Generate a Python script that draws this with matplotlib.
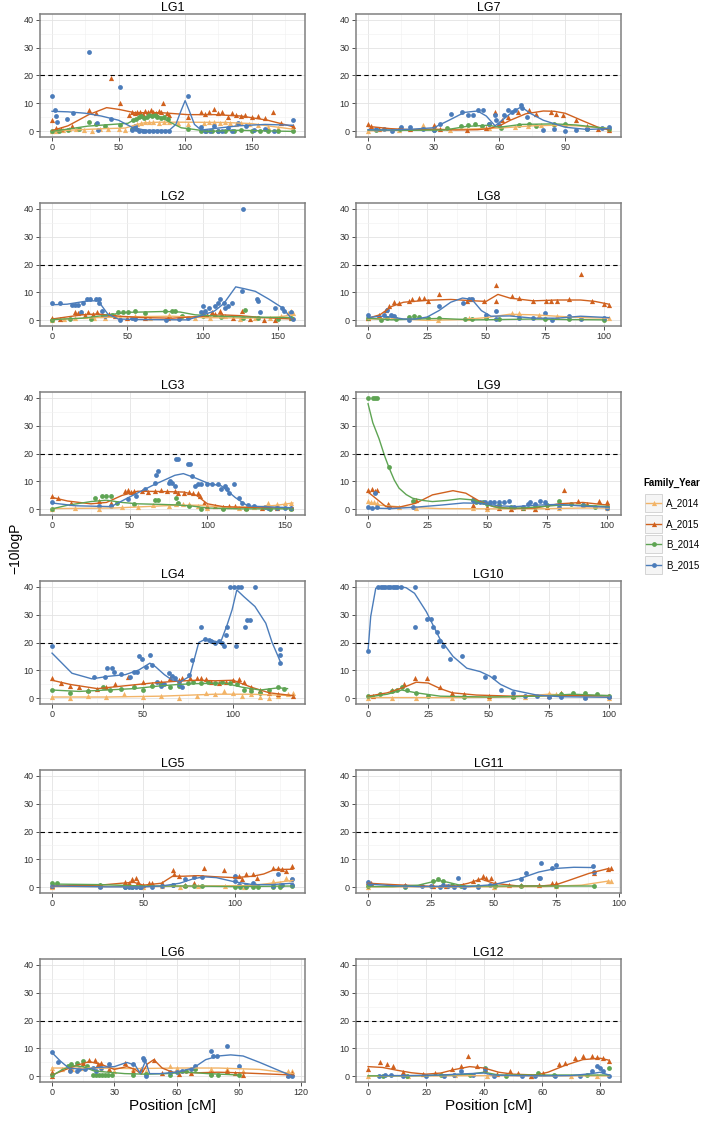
import matplotlib
matplotlib.use("Agg")
import matplotlib.pyplot as plt
from matplotlib.patches import Rectangle

plt.rcParams['font.family'] = ['Liberation Sans', 'DejaVu Sans']

# ---------------- data ----------------
panels = ["LG1", "LG2", "LG3", "LG4", "LG5", "LG6",
          "LG7", "LG8", "LG9", "LG10", "LG11", "LG12"]
lengths = [181, 160, 155, 133, 132, 116, 110, 102, 101, 100, 96, 83]
x_ticks = [[0, 50, 100, 150], [0, 50, 100, 150], [0, 50, 100, 150],
           [0, 50, 100], [0, 50, 100], [0, 30, 60, 90, 120],
           [0, 30, 60, 90], [0, 25, 50, 75, 100], [0, 25, 50, 75, 100],
           [0, 25, 50, 75, 100], [0, 25, 50, 75, 100], [0, 20, 40, 60, 80]]
y_ticks = [0, 10, 20, 30, 40]
threshold = 20
series = ["A_2014", "A_2015", "B_2014", "B_2015"]
colors = ["#F2B468", "#D0611E", "#5EA453", "#4B7CBA"]
markers = ["^", "^", "o", "o"]

LG1_PTS = {
    "A_2014": [(0,0),(3,0.3),(8,0.5),(13,0.8),(18,1),(24,0.5),(30,0.3),(36,0.8),(42,1),(50,0.7),(55,0.5),(60,1.5),(64,2.5),(67,3),(70,3.5),(73,3.2),(76,3.3),(80,3),(84,3.4),(88,3.2),(95,3),(102,2.8),(114,3),(118,3.5),(122,3.2),(126,3),(130,3.3),(134,3),(138,2.5),(142,3),(148,2.6),(155,2.2),(162,1.5),(170,1.2),(181,0.8)],
    "A_2015": [(0,4),(3,1.3),(7,1),(15,2),(27.6,7.5),(33,6.5),(44.6,19.2),(51,10.2),(58,6),(60,7),(62,6.5),(64,7),(66,6.8),(68,6.2),(70,7.2),(72,6.8),(74,7.5),(76,7),(78,6.5),(80,7.3),(82,6.8),(83.5,10.2),(86,6.5),(88,6),(102,5.2),(112,6.8),(115,6.2),(118,6.8),(122,8),(125,6.5),(128,6.8),(132,5),(135,6.5),(138,6),(142,5.5),(145,5.8),(150,5.2),(155,5.5),(160,4.8),(166,7),(172,3),(181,2)],
    "B_2014": [(0,0),(5,0.3),(12,0.5),(20,1),(27.6,3.5),(33,2.7),(40,2),(51,2.3),(60,1),(61,4),(63,4.5),(65,5),(67,5.5),(69,4.8),(71,5.3),(73,5.8),(75,5.5),(77,6),(79,5.2),(82,4.9),(84,5),(87,4.3),(102,1),(112,0),(116,0),(120,0.2),(125,0),(130,0),(137,0.3),(142,0.5),(150,0),(156,0.2),(162,0),(170,0),(181,0)],
    "B_2015": [(0,12.5),(2,7.5),(3,5.5),(4,3.5),(11.5,4.6),(16,6.7),(27.6,28.3),(34,3.1),(34.5,0.5),(44.6,4.5),(51,16),(60,0.5),(62,2),(63,1),(65,0),(68,0.3),(70,0),(73,0),(76,0),(79,0),(82,0),(85,0),(88,0),(102,12.8),(112,1.5),(115,0),(119,0.2),(122,2),(125,0),(128,0.3),(132,1.3),(135,0),(140,3),(146,2),(152,0.5),(160,1),(167,0),(181,4)],
}
LG1_FIT = {
    "A_2014": [(0,0.1),(20,0.6),(40,1),(55,1.2),(62,2.2),(68,3),(80,3.3),(100,3.3),(130,3.2),(150,2.8),(165,1.8),(181,0.8)],
    "A_2015": [(0,0.3),(12,2),(27.6,6),(41,8.5),(50,7.9),(62,6.7),(82,6.7),(102,6),(122,6),(142,5.5),(162,4),(181,1.7)],
    "B_2014": [(0,0),(27,1.9),(45,2.5),(57,2.9),(62,4.3),(72,5.2),(80,5.5),(87,3.7),(97,1.3),(107,0.7),(117,0),(140,0.4),(181,0)],
    "B_2015": [(0,7.2),(12,7),(25,6.5),(37,5.5),(50,4),(60,1.5),(70,0.4),(88,0.4),(93,2.5),(97,7.5),(100,11),(103,7.5),(107,2.5),(112,0.5),(125,1.2),(140,2),(160,2.5),(181,2.2)],
}

LG2_PTS = {
    "A_2014": [(0,0.3),(8,0.5),(15,1),(22,1.5),(28,0.8),(35,1),(45,1.3),(55,1.5),(65,1),(78,1.8),(85,1.2),(95,0.8),(105,1),(115,1.5),(125,0.5),(135,0.8),(145,1),(152,1.5),(157,2.5),(159,3.4),(160,2.8)],
    "A_2015": [(0,0.7),(5,0.5),(15,2.9),(17,2.5),(19.5,2.9),(22,2),(24,3),(27,2.2),(30,3),(33,2),(38,2.3),(42,1.5),(50,1),(62,0.7),(77,1),(100,2.5),(103,2),(106,3),(108,2.2),(111.6,3.4),(113,2),(120,0.7),(126,3.4),(131.6,0.5),(141,0),(148,0),(159,1)],
    "B_2014": [(0,0),(12,0.5),(26,0.5),(39.5,1.9),(44,2.9),(47,3.1),(50.6,3.1),(55,3.4),(62,2.8),(75,3.4),(79.5,3.4),(81.7,3.4),(86,1.7),(100,1.5),(112,1.2),(127,1),(128,3.8),(137,0.7),(150,0.5),(159,0.7)],
    "B_2015": [(0,6.2),(5,6.2),(13,5.6),(15,5.6),(17,5.6),(19.5,3.1),(20.6,6.4),(23,7.6),(25,7.6),(29.5,7.6),(31,7.6),(31.5,6.2),(33,3.4),(35,1.7),(45,0.2),(53,0.7),(55,0.5),(76,0),(84,0.5),(90,0.7),(99,2.9),(100.5,5.2),(101.6,3.4),(104,4.6),(108,5.2),(110,6.2),(111.6,7.6),(114,6.4),(115,4.6),(117,5.2),(119.4,6.2),(127,40),(126,10.6),(136,7.8),(137,7),(138,2.9),(148,4.6),(152.7,4.6),(154,3.4),(159,2.9),(160,0.5)],
}
LG2_FIT = {
    "A_2014": [(0,0.3),(30,1),(50,1.3),(80,1.5),(100,1),(130,0.8),(150,1.2),(160,2)],
    "A_2015": [(0,0.5),(20,2),(30,2.3),(45,1.5),(60,1),(80,0.8),(100,1.5),(112,2),(125,1.7),(140,1),(160,0.5)],
    "B_2014": [(0,0.3),(20,0.8),(35,1.8),(50,2.9),(60,3),(75,3.2),(85,3),(95,2),(110,1.5),(130,1.2),(160,1)],
    "B_2015": [(0,5.6),(10,5.8),(24,7),(30.6,7),(34,4.5),(37,2.3),(44,0.5),(60,0.3),(90,0.2),(99,1.7),(108,3.4),(114,6),(118,9),(122,12),(128,11.3),(135,10.4),(144,7.6),(152.7,4.6),(157,2),(160,0)],
}

LG3_PTS = {
    "A_2014": [(0,0.3),(15,0.5),(30,0.3),(45,0.8),(55,1),(65,1.5),(75,1.2),(80,1.8),(84,1.8),(88,1.8),(94,1.2),(100,0.5),(110,0.8),(120,0.5),(130,0.8),(139,2.3),(145,2),(150,2.3),(154,2.3)],
    "A_2015": [(0,4.8),(4,4.2),(12.5,2.4),(30,3),(38,2.4),(47,6.6),(49,6.8),(51,6.4),(53,6.6),(58,6.6),(62,6.4),(66,6.6),(70,6.8),(74,6.6),(79,6.6),(81,6),(85,6),(88,6.2),(91,6),(94,6),(95,4.8),(98,2.4),(100,1.2),(105,1.2),(110,1),(114,1.2),(118,1.2),(125,0.6),(135,0.6),(145,0.6),(154,0.6)],
    "B_2014": [(0,0),(27.5,4.2),(32,4.8),(35,4.8),(38,4.8),(42,2.4),(53,1.8),(66,3.3),(68,3.3),(80,4.2),(81,2.4),(88,1.2),(96,0.3),(110,0.2),(125,0.3),(140,0.2),(154,0.3)],
    "B_2015": [(0,2.6),(30,1.2),(38,1.2),(49,3.6),(54,4.8),(60,7.4),(66,9.6),(67,12.2),(68,13.7),(75,9.6),(76,10.1),(77,9.6),(79,8.4),(80,18.1),(81,18.1),(87.7,16.1),(89,16.1),(90,12),(92,8.4),(94,9),(96,9),(100,9),(103,9),(107,9),(109,7.2),(111,8.4),(112.5,7.4),(114,5.9),(117,9.2),(120,4.2),(122,2.4),(126,1.5),(130,1.2),(137,1),(139,0.6),(145,0.6),(150,0.6),(154,0.6)],
}
LG3_FIT = {
    "A_2014": [(0,0.3),(40,0.5),(60,1),(80,1.5),(95,1.5),(110,0.8),(130,0.8),(145,1.5),(155,2.3)],
    "A_2015": [(0,4.3),(10,3),(25,2),(35,2.5),(45,5),(55,6.5),(70,6.4),(85,6.2),(93,5),(100,2),(110,1),(130,0.6),(155,0.5)],
    "B_2014": [(0,0.2),(10,1.5),(25,2.8),(35,3.3),(45,2.5),(55,2),(70,1.8),(80,1.6),(90,1.2),(100,0.5),(120,0.2),(155,0.2)],
    "B_2015": [(0,2.3),(15,1.3),(38,1),(49,4.2),(64,8.4),(79,12.2),(84.5,12.8),(92,11.3),(100.6,9.3),(109,8.4),(118,4.2),(126,1.2),(154,0.6)],
}

LG4_PTS = {
    "A_2014": [(0,0.5),(10,0.3),(20,1),(30,0.5),(40,1.5),(50,0.5),(60,1),(70,0.3),(80,1),(85,2),(90,1.5),(95,2.5),(100,1.8),(105,1),(110,1.5),(115,0.5),(120,0.3),(125,1),(130,1.5),(133,1.8)],
    "A_2015": [(0,7.3),(5,5.5),(10,4.5),(15,4),(20,3),(25,3.5),(30,4),(35,5),(42,7.6),(45,4.5),(50,6),(55,5),(60,6),(65,7.3),(70,6.5),(72,7.3),(76,7.3),(80,7.3),(82,7.3),(85,7),(88,6),(92,5.5),(96,6),(100,6.5),(103,7),(106,6),(110,4),(115,3),(120,2),(125,1.5),(133,1)],
    "B_2014": [(0,3),(10,2),(20,2.5),(28,4),(32,3),(38,3.5),(45,4),(50,3),(55,4.5),(60,5),(65,4),(70,4.5),(75,5.5),(78,6),(82,5.5),(86,6),(90,5.5),(94,6),(98,5.5),(102,5),(106,3),(110,2.5),(115,2),(120,3),(125,4),(128,3.5)],
    "B_2015": [(0,18.6),(23,7.5),(29.5,7.5),(30.4,11),(33,11),(34,9.6),(37.8,8.8),(43,7.6),(45,9.4),(47,9.6),(48,15.2),(49.7,14),(51.6,11.4),(54,15.6),(55,12),(58,6),(60,4.5),(62,5),(64.5,9),(66,8),(68,7.3),(70,5),(72,4),(75.5,8.5),(77,13.8),(82.5,25.5),(84.7,21.2),(86.5,21),(88,20.5),(90,20),(92,20.5),(94,20),(95,18.6),(96,22.7),(96.5,25.5),(98.5,40),(100.5,40),(102.5,40),(104.5,40),(101.7,18.6),(106.8,25.5),(107.7,28.1),(109.5,28.1),(112,40),(126,17.6),(126,15.6),(126,12.6)],
}
LG4_FIT = {
    "A_2014": [(0,0.5),(30,0.5),(60,0.8),(90,1.5),(110,1.5),(133,1)],
    "A_2015": [(0,6.5),(10,5),(25,3.5),(40,4.5),(55,5.5),(70,6.2),(80,6.5),(90,6.3),(100,6.5),(110,4),(120,2),(133,1)],
    "B_2014": [(0,3),(15,2.5),(30,3),(45,3.5),(60,4.5),(70,5),(80,5.3),(95,5.5),(105,4),(115,3),(125,3.8),(130,3.5)],
    "B_2015": [(0,16.2),(11,9),(22,7),(31,7.9),(40.5,8.5),(48,10.2),(54,12.6),(57,11.4),(62,8.5),(66,6.7),(71,6),(76,7.9),(81,20),(84.7,21.2),(93,20),(96.5,26),(99.4,31.7),(102,38.8),(105.9,36.4),(112,32.9),(118,26.9),(121.5,20),(126,13.2)],
}

LG5_PTS = {
    "A_2014": [(0,0.3),(26.5,0.5),(42,0.5),(50,0.3),(60,0.5),(70,0.3),(80,0.6),(95,0.5),(105,0.3),(112,0.8),(121,2.4),(125,1.5),(128,3.5),(131,2.9)],
    "A_2015": [(0,0.6),(26.5,1),(40,2.1),(42,1.5),(44,3),(45.8,3.5),(47,1.8),(50,0.9),(53,1.5),(55,1.5),(60,1.5),(66,6.2),(67,4.7),(69.5,4.1),(73,0.9),(78,1.5),(83,7.1),(94,6.2),(100,4.1),(102.5,4.1),(104,2.9),(106,4.7),(110,4.7),(112.5,3.5),(121,7.1),(124,7.1),(126,6.5),(128,5.9),(131.6,7.7)],
    "B_2014": [(0,1.5),(2.7,1.5),(26.5,1),(40,0),(44,0),(48,0),(66,0.9),(73,0.4),(78,0.4),(82,0.6),(100,0.1),(103,0),(106,0),(110,0),(113,0),(121,0),(125,0),(131.6,0.6)],
    "B_2015": [(0,0.6),(26.5,0.1),(40,0),(42,0),(44,0),(46,0),(48,0),(49,0),(55,0.3),(60,0.4),(66,0.9),(73,3),(78,3.9),(82.3,3.9),(100,4.1),(100,2.4),(102.5,0.9),(106,0.9),(110,1.5),(121,0.6),(124,4.7),(126,0.9),(131.6,3),(131.6,0.9)],
}
LG5_FIT = {
    "A_2014": [(0,0.3),(50,0.3),(80,0.5),(110,0.7),(120,1.5),(132,2.5)],
    "A_2015": [(0,0.5),(26,0.8),(40,1.6),(45,1.8),(50,0.8),(60,1.5),(66,4),(72,4),(80,4.2),(90,3.8),(100,3.5),(110,4),(116,4.8),(122,6.4),(132,6.5)],
    "B_2014": [(0,1.2),(26,1),(50,0.5),(75,0.5),(100,0.3),(132,0.5)],
    "B_2015": [(0,0.5),(30,0.2),(50,0.2),(60,0.5),(70,1.5),(77,3),(83,3.8),(90,3.5),(100,2),(110,1),(120,1),(132,1.5)],
}

LG6_PTS = {
    "A_2014": [(0,3.1),(5,2.5),(9.8,2.5),(15,3),(23.5,2.5),(30,2),(39,2.5),(45,2),(57,3.7),(60,3),(68.6,3.1),(76.5,2.5),(84.3,2.5),(92,1.9),(113.7,1.9),(115.7,1.9)],
    "A_2015": [(0,0.2),(0,1.5),(8.8,3),(14.7,4.9),(17.6,5.8),(20.6,5.8),(22,4.5),(23.5,4.9),(27.5,2.5),(35,4.9),(39,1.9),(43,2.5),(49,6),(53,1.3),(61,0.7),(66.7,1.3),(76.5,1.3),(84.3,1.9),(88,1.3),(92,0.5),(113.7,0.5),(115.7,1.3)],
    "B_2014": [(0,0.6),(7.8,3.7),(9,4.3),(11.8,4.9),(14.7,5.5),(16.7,3.7),(19.6,0.5),(21,0.5),(22.5,0.5),(24,0.5),(25.5,0.5),(27,0.5),(29,0.5),(39,0.5),(45,0.7),(57,0.5),(64.7,1.9),(68.6,2.5),(76.5,0.5),(80,0.5),(90,0.5)],
    "B_2015": [(0,8.7),(3,5),(8.8,1.9),(11.8,1.9),(13,2.5),(15.7,2.5),(19.6,3.1),(21,2),(23.5,3.1),(27.5,4.3),(39,4.3),(44,6.7),(44.5,6),(45,0.1),(57,1.5),(60,1.5),(62.7,1.9),(66.7,2.5),(68.6,3.7),(76.5,9),(77.5,7.3),(79.4,7.3),(84.3,10.8),(90,3.7),(113.7,0.1),(115.7,0.1)],
}
LG6_FIT = {
    "A_2014": [(0,3),(20,3),(40,2.8),(60,3),(80,3),(100,2.5),(116,1)],
    "A_2015": [(0,0.5),(5,2),(12,4),(18,5.3),(24,4.2),(30,2.5),(36,3.5),(40,2.5),(43,0.8),(46,4.5),(49,6),(53,3),(58,1.5),(70,1.3),(80,1.5),(90,1.3),(100,1),(116,0.5)],
    "B_2014": [(0,0.2),(5,2.5),(10,3.8),(15,3.5),(20,2),(27,1.5),(35,1),(45,0.8),(55,1),(65,1.5),(75,1),(90,0.5)],
    "B_2015": [(0,8.5),(4,5.5),(8,3),(15,2.5),(22,3.2),(30,3.5),(36,5),(40,4),(42.5,1),(45,5.5),(47,1),(52,1),(60,1.5),(68,3),(74,6),(80,7.3),(86,7.7),(92,7.3),(100,5),(108,2.5),(116,0)],
}

LG7_PTS = {
    "A_2014": [(0,0.1),(14,0.5),(25,2.3),(37.5,0.5),(55,1.1),(67,1.7),(73,1.9),(79,2.2),(85,2.5),(90,2.5),(100,1.5),(110,1)],
    "A_2015": [(0,2.5),(1.2,1.8),(5,1),(19,0.8),(30,2.3),(33,0.8),(45,0.5),(54,1.3),(58,7),(61,4.1),(64,5.3),(68.5,7),(73.5,7.6),(76.5,6.4),(83.7,7),(86,6.4),(89,6),(95,4),(100,2),(105,1),(110,0.5)],
    "B_2014": [(3.6,0.5),(14.5,0.7),(30,0.5),(36,1.1),(42.5,2),(45.6,2.3),(48.7,2.5),(52,2),(55,2.8),(60.7,1.3),(69,2.3),(73.5,2.8),(76.5,2),(85,2.5),(90,2.5),(100,1),(110,0.8)],
    "B_2015": [(3.6,0.7),(7.5,0.7),(11,0.3),(15,1.7),(19,1.7),(25,0.7),(30,0.4),(33,2.5),(37.8,6.3),(43,6.8),(45.5,6),(48,6),(50,7.6),(52.6,7.6),(55,2.5),(58,5.8),(58.3,4),(59.6,2.3),(62,5.8),(64,7.6),(65.8,7),(67.3,7.6),(69.7,9.4),(70.5,8.4),(72.8,5.2),(80,0.5),(85,1),(90,0.3),(95,0.5),(100,0.7),(107,1.3),(110,1.5)],
}
LG7_FIT = {
    "A_2014": [(0,0.2),(20,0.5),(40,0.7),(60,1.2),(75,2),(85,2.2),(95,2),(110,1)],
    "A_2015": [(0,1.8),(10,1),(20,0.6),(30,0.8),(40,0.5),(50,0.6),(55,1),(60,2),(65,4),(72,6.3),(80,7.3),(85,7.2),(90,6.5),(98,3.8),(105,1.5),(110,0.5)],
    "B_2014": [(0,0.5),(20,0.4),(35,0.5),(45,1.8),(55,2.2),(60,1.5),(70,2.5),(85,2.7),(95,2.3),(110,1)],
    "B_2015": [(0,0.6),(10,0.5),(20,0.8),(30,1.3),(37,4),(44,6.8),(50,7.3),(54,5.5),(58,2),(62,4.5),(66,7),(70,8.8),(74,6.5),(80,4),(90,1.5),(100,0.7),(110,1)],
}

LG8_PTS = {
    "A_2014": [(0,0.9),(10.5,1.5),(29.5,0),(42.9,0.9),(61,2.7),(64,2.7),(72.5,2.1),(80,1.5),(90,1),(102,0.8)],
    "A_2015": [(0,0.9),(4.7,2.1),(7.5,3.9),(8.9,5.1),(11,6.6),(13,6.2),(17.4,6.9),(18.8,7.5),(21.6,8),(23.8,8),(25.2,7.1),(30,9.5),(42,6.9),(43.6,7.5),(49,6.9),(54,12.5),(54,6.9),(61,8.9),(64,8),(69.7,6.9),(75.4,6.9),(77.5,7.1),(80,7),(85,7.5),(90,16.5),(95,7),(100,6),(102,5.5)],
    "B_2014": [(0,0.7),(5.4,0),(8.2,1),(11.7,0.4),(17.4,1.2),(19.5,1.5),(21.6,1.2),(25.2,1),(30,1),(41,0.6),(44,0.4),(50,0.9),(55.5,0.4),(75,0.4),(85,0.5),(100,0.2)],
    "B_2015": [(0,1.9),(6.8,1.9),(8.2,3.9),(9.6,1.9),(11,1.5),(17.4,0),(30,5.3),(40,6.3),(42.9,7.8),(44,7.5),(50,1.9),(54,3.3),(54,0.6),(64,1),(70,1),(75,2.7),(78,0),(85,1.5),(90,0.5),(100,1)],
}
LG8_FIT = {
    "A_2014": [(0,0.5),(15,0.5),(25,0),(40,0.3),(50,1),(60,2.2),(70,2),(80,1.5),(90,1),(102,0.8)],
    "A_2015": [(0,0.8),(5,2),(10,5),(15,6.5),(25,7.2),(35,7.5),(45,7),(50,6.8),(55,9.3),(60,8),(70,7),(80,7.3),(90,7.3),(96,6.8),(102,5.8)],
    "B_2014": [(0,0.8),(10,0.2),(20,0.5),(30,0.7),(45,0.2),(55,0.3),(70,0.5),(85,0.3),(100,0.2)],
    "B_2015": [(0,1),(5,1.5),(10,1.2),(15,0.5),(20,0.5),(25,1.2),(30,3.5),(35,6.5),(40,8),(44,7.5),(48,3.5),(52,1.5),(60,1.6),(70,0.8),(80,0.8),(90,1.5),(102,1)],
}

LG9_PTS = {
    "A_2014": [(0,3.1),(1.1,2.8),(2.5,2.6),(3.9,2.2),(8.6,1.6),(13,1),(20,0.5),(44,0.5),(50,0.2),(60,0.3),(70,0.2),(80,0.5),(90,1.5),(100,0.5)],
    "A_2015": [(0,7),(1.8,7.2),(2.8,6.5),(3.9,7),(8.2,1.9),(20,3.4),(44,1.7),(50,1),(55,0.5),(60,0.3),(65,0.5),(70,0.3),(75,1),(82,7),(88,3),(92,2),(97,3),(100,2.5)],
    "B_2014": [(0,40),(2.1,40),(3,40),(3.9,40),(8.6,15),(18.7,3.1),(44,3.5),(45.4,2.8),(48,2.5),(50,2),(55,1.5),(60,1),(65,0.5),(70,1),(75,1.5),(80,3),(85,2),(90,1.5),(95,1),(100,1)],
    "B_2015": [(0,0.7),(1.8,0.5),(3,5.8),(3.9,0.7),(8.6,0.7),(18.7,0.7),(44,3.5),(47,2.8),(49,2.8),(51,2.5),(53,2.8),(55,2.5),(57,2.8),(59,3.1),(61,1),(65,1),(67,2),(68,2.5),(70,2),(72,3.1),(74,2.8),(80,1),(90,1.5),(100,0.5)],
}
LG9_FIT = {
    "A_2014": [(0,2.5),(5,1.5),(15,0.8),(30,0.3),(50,0.2),(70,0.2),(90,0.5),(101,0.5)],
    "A_2015": [(0,6.2),(3.2,4),(7.5,1),(13,0.8),(20,2.2),(27,5.2),(35.6,6.7),(41,5.8),(47,2.8),(52.5,1),(60,0.3),(70,0.5),(80,2),(90,2.5),(101,1.5)],
    "B_2014": [(0,37.8),(2,31),(4.6,25.3),(7,19),(8.9,14.7),(11,10.5),(13,7.6),(16,5.3),(18.7,4),(23,3.2),(27,2.8),(33,3.2),(38.5,3.8),(44,3.4),(50,1.7),(55,0.5),(65,0.5),(80,1.5),(90,1.5),(101,1)],
    "B_2015": [(0,0.5),(10,0.3),(20,0.8),(30,1.5),(40,2.3),(47,2.2),(55,1.3),(62,1),(70,1.5),(80,1.8),(90,1.2),(101,0.8)],
}

LG10_PTS = {
    "A_2014": [(0,0.2),(10,0.3),(20,0.2),(35,0.3),(50,0.2),(65,0.5),(75,2),(78,1.5),(80,1.8),(90,0.5),(100,0.3)],
    "A_2015": [(2,1),(10,3),(15,5),(19.3,7.3),(24.6,7.3),(30,4),(35,2),(40,1.5),(50,1),(60,0.8),(75,1),(80,2),(90,1.5),(100,1)],
    "B_2014": [(0,1),(5,1.5),(10,2.5),(12,3),(14,4),(16,3),(20,2),(25,1),(40,0.5),(60,0.5),(80,1.5),(85,2),(90,2),(95,1.5),(100,1)],
    "B_2015": [(0,17),(4.2,40),(5.2,40),(6.2,40),(7.2,40),(8.2,40),(9.2,40),(10.2,40),(11.2,40),(12.2,40),(13.7,40),(19.3,40),(19.6,25.6),(24.6,28.3),(26,28.3),(27,25.6),(28.6,23.9),(29.5,20.7),(30,20.4),(31,18.8),(34,14),(39,15.2),(48.6,7.5),(52.4,7.5),(55,3),(60,2),(65,1),(70,1),(75,0.5),(80,0.5),(90,0.3),(100,0.5)],
}
LG10_FIT = {
    "A_2014": [(0,0.3),(40,0.3),(60,0.5),(75,1.5),(85,1),(100,0.5)],
    "A_2015": [(0,0.8),(8,2),(15,4),(20,5.8),(25,5.5),(30,3.5),(35,2),(45,1.2),(60,0.8),(80,1),(100,1)],
    "B_2014": [(0,0.5),(8,1.5),(14,3),(20,2),(30,0.8),(50,0.5),(70,0.8),(85,1.5),(100,1)],
    "B_2015": [(0,17),(1.1,29.3),(3.2,39.4),(5.3,40),(13,40),(15.8,39.6),(19.3,37.6),(24.2,31),(29.7,21.5),(35.3,15),(41,10.8),(46.5,9.6),(50.7,7.9),(55,5),(60,3),(70,1.2),(80,0.6),(100,0.4)],
}

LG11_PTS = {
    "A_2014": [(0,0),(26,0.6),(50,0),(74.7,0.6),(95.6,2.4),(96.9,2.4)],
    "A_2015": [(0,1.8),(1,1.4),(14.8,0.9),(26,0.6),(31,0.6),(38,0.8),(41.7,2.4),(43.7,3),(45.8,4.1),(47,3.5),(49,3.2),(50.5,1.4),(56,0.9),(61,0.9),(68,0.9),(73.4,1.5),(74.7,1.7),(90,5.3),(95.6,6.5),(96.9,7.1)],
    "B_2014": [(0,0.4),(14.8,0),(26,2.4),(28,3),(30,2.4),(33.6,0.8),(37,0.6),(43.7,0.4),(50.5,0.6),(61,0.6),(74.7,0.6),(90,0.6)],
    "B_2015": [(0,2),(0.7,1.2),(14.8,0.4),(21.5,0.4),(25,0.6),(28.5,0),(30,1),(32,0.5),(36,3.2),(34.3,0),(38.3,0),(44,0),(48.5,0.8),(61,3),(62.8,5),(68,3.5),(68.7,3.5),(68.8,8.8),(73.4,7.1),(74.7,7.9),(89.8,7.7),(90,5.5)],
}
LG11_FIT = {
    "A_2014": [(0,0.2),(40,0.2),(70,0.3),(85,0.8),(96,2.3)],
    "A_2015": [(0,1.5),(10,1),(20,0.6),(28,0.3),(35,0.5),(40,1.5),(45,3),(50,1.5),(60,0.5),(70,0.6),(75,1),(80,2.5),(88,5),(96,6.8)],
    "B_2014": [(0,0.3),(10,0.3),(20,0.8),(28,2.5),(32,1.8),(38,0.5),(50,0.5),(70,0.5),(90,0.5)],
    "B_2015": [(0,1.2),(10,0.6),(20,0.3),(30,0.4),(40,0.3),(50,1),(60,3),(68,5.5),(75,6.8),(82,7.2),(90,7.1)],
}

LG12_PTS = {
    "A_2014": [(0,0),(13.6,0.3),(30,0.4),(41,0.3),(56,0),(70,0.2),(79,0)],
    "A_2015": [(0,2.5),(4,5.2),(6.6,4.5),(8.7,3.7),(12,1.5),(19,0.7),(23,1.3),(29,2.5),(32,3.7),(34.5,7.3),(37.5,3.7),(40.4,2.5),(44.6,0.7),(48.8,1.9),(51.5,1.3),(56,0.1),(60.2,1.1),(65.7,4.3),(67.8,4.8),(71.3,6.7),(74,7.3),(77,7.3),(79,7),(81,6.7),(83,5.5)],
    "B_2014": [(5,0),(13.5,0),(25,0.4),(35,0.5),(40.4,3.1),(47.5,0),(58.6,1.3),(64.2,0.4),(75.4,0.4),(83,3.1)],
    "B_2015": [(3.8,0),(5.9,0.5),(8,0.5),(12.2,0),(19.8,0),(26,0),(29.5,0.5),(32,1.9),(36,0.5),(40.4,2.5),(43.3,0),(53,0),(57.4,0),(64.4,0),(72.9,0),(77,1.9),(79,3.7),(80,3.1),(81,1.9),(83,0)],
}
LG12_FIT = {
    "A_2014": [(0,0.1),(40,0.3),(60,0.2),(83,0.2)],
    "A_2015": [(0,3.5),(5,3.2),(10,2.2),(15,1.3),(20,0.8),(25,1.2),(30,2.5),(35,3.5),(40,3),(45,1.5),(50,0.8),(58,0.5),(62,1.5),(68,4),(74,6),(80,6.5),(83,5.8)],
    "B_2014": [(0,0.2),(20,0.3),(35,0.8),(40,1.5),(45,0.5),(60,0.5),(75,0.5),(83,0.5)],
    "B_2015": [(4,0.3),(15,0.3),(25,0.5),(35,1),(40,1.2),(43,0.5),(50,0.3),(60,0.2),(70,0.3),(77,1),(80,1.5),(83,0.5)],
}

all_pts = [LG1_PTS, LG2_PTS, LG3_PTS, LG4_PTS, LG5_PTS, LG6_PTS,
           LG7_PTS, LG8_PTS, LG9_PTS, LG10_PTS, LG11_PTS, LG12_PTS]
all_fit = [LG1_FIT, LG2_FIT, LG3_FIT, LG4_FIT, LG5_FIT, LG6_FIT,
           LG7_FIT, LG8_FIT, LG9_FIT, LG10_FIT, LG11_FIT, LG12_FIT]

# ---------------- layout (pixels) ----------------
W, H = 714, 1133
cols = [(40, 305), (356, 621)]
row_tops = [14, 203, 392, 581, 770, 959]
panel_h = 123

fig = plt.figure(figsize=(W / 100, H / 100), dpi=100)

for i, name in enumerate(panels):
    c, r = divmod(i, 6)
    x0, x1 = cols[c]
    top = row_tops[r]
    ax = fig.add_axes([x0 / W, 1 - (top + panel_h) / H, (x1 - x0) / W, panel_h / H])
    L = lengths[i]
    xt = x_ticks[i]
    step = xt[1] - xt[0]
    ax.set_xticks(xt)
    ax.set_yticks(y_ticks)
    ax.set_xticks([t + step / 2 for t in xt] + [xt[0] - step / 2], minor=True)
    ax.set_yticks([5, 15, 25, 35], minor=True)
    ax.grid(True, which="major", color="#E3E3E3", lw=0.6, zorder=0)
    ax.grid(True, which="minor", color="#F1F1F1", lw=0.45, zorder=0)
    ax.set_axisbelow(True)
    ax.tick_params(which="major", length=3, width=0.6, color="#333333",
                   labelsize=6.5, labelcolor="#333333", pad=1.5)
    ax.tick_params(which="minor", length=0)
    for sp in ax.spines.values():
        sp.set_color("#808080")
        sp.set_linewidth(1.1)
    ax.set_title(name, fontsize=9, pad=2.5)

    for k, s in enumerate(series):
        pts = all_pts[i][s]
        ax.scatter([p[0] for p in pts], [p[1] for p in pts], s=12 if markers[k] == "o" else 14,
                   marker=markers[k], color=colors[k], linewidths=0, zorder=3, clip_on=False)
    for k, s in enumerate(series):
        fit = all_fit[i][s]
        ax.plot([p[0] for p in fit], [p[1] for p in fit], color=colors[k], lw=1.0, zorder=4)
    ax.axhline(threshold, color="black", lw=0.8, ls=(0, (4, 3)), zorder=5)
    # limits last: setting ticks can widen the view
    ax.set_xlim(-0.05 * L, 1.05 * L)
    ax.set_ylim(-2, 42)

# ---------------- overlay: axis labels and legend ----------------
ov = fig.add_axes([0, 0, 1, 1])
ov.set_xlim(0, W)
ov.set_ylim(H, 0)
ov.axis("off")

ov.text(15, 548, "\u221210logP", rotation=90, fontsize=10, ha="center", va="center")
for x0, x1 in cols:
    ov.text((x0 + x1) / 2, 1106, "Position [cM]", fontsize=11, ha="center", va="center")

ov.text(643, 483, "Family_Year", fontsize=7, fontweight="bold", ha="left", va="center")
for k, s in enumerate(series):
    yc = 503 + k * 20.7
    ov.add_patch(Rectangle((645, yc - 9), 17, 18, facecolor="#F5F5F5",
                           edgecolor="#CFCFCF", lw=0.6))
    ov.plot([646, 661], [yc, yc], color=colors[k], lw=1.0)
    ov.scatter([653.5], [yc], s=12 if markers[k] == "o" else 14, marker=markers[k],
               color=colors[k], linewidths=0, zorder=3)
    ov.text(666, yc, s, fontsize=7, ha="left", va="center")

fig.savefig("out.png", dpi=100)
